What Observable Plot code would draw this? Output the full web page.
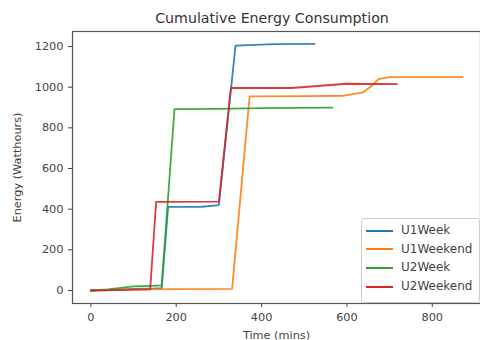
<!DOCTYPE html>
<html><head><meta charset="utf-8">
<script src="https://cdn.jsdelivr.net/npm/d3@7"></script>
<script src="https://cdn.jsdelivr.net/npm/@observablehq/plot@0.6"></script>
<style>
body{margin:0;background:#fff;font-family:"DejaVu Sans",sans-serif;}
#wrap{position:relative;width:480px;height:340px;overflow:hidden;}
#title{position:absolute;left:72px;width:400px;top:10px;text-align:center;font-size:14.2px;color:#333;}
#legend{position:absolute;left:361px;top:218px;width:117px;height:83px;border:1px solid #ccc;border-radius:3px;background:rgba(255,255,255,0.9);font-size:12px;color:#444;}
#legend .row{position:absolute;left:4px;height:18px;line-height:18px;white-space:nowrap;}
#legend .sw{display:inline-block;width:27px;height:2px;vertical-align:middle;margin-right:8px;}
</style></head>
<body><div id="wrap"><div id="title">Cumulative Energy Consumption</div><div id="legend"></div></div>
<script>
const seriesNames = ["U1Week", "U1Weekend", "U2Week", "U2Weekend"];
const seriesColors = ["#1f77b4", "#ff7f0e", "#2ca02c", "#d62728"];
const u1WeekT = [0, 40, 100, 150, 166, 181, 260, 300, 339, 430, 524];
const u1WeekE = [0, 2, 8, 10, 12, 411, 412, 420, 1205, 1212, 1213];
const u1WeekendT = [0, 100, 200, 331, 372, 500, 593, 638, 660, 674, 700, 800, 871];
const u1WeekendE = [2, 5, 7, 8, 955, 956, 958, 975, 1010, 1040, 1050, 1050, 1050];
const u2WeekT = [0, 40, 100, 140, 166, 196, 300, 400, 566];
const u2WeekE = [0, 5, 20, 23, 25, 892, 893, 897, 900];
const u2WeekendT = [0, 60, 139, 153, 300, 328, 470, 600, 717];
const u2WeekendE = [0, 2, 5, 436, 437, 996, 996, 1017, 1015];
const xTicks = [0, 200, 400, 600, 800];
const yTicks = [0, 200, 400, 600, 800, 1000, 1200];

const allT = [u1WeekT, u1WeekendT, u2WeekT, u2WeekendT];
const allE = [u1WeekE, u1WeekendE, u2WeekE, u2WeekendE];
const data = seriesNames.flatMap((s, i) => allT[i].map((t, j) => ({series: s, t, e: allE[i][j]})));

const chart = Plot.plot({
  width: 480, height: 340,
  marginLeft: 72, marginRight: 0, marginTop: 31, marginBottom: 37,
  style: {fontFamily: "DejaVu Sans, sans-serif", fontSize: "11.3px", color: "#444", background: "transparent"},
  x: {domain: [-43, 913], ticks: xTicks, tickFormat: d3.format("d"), tickSize: 4, tickPadding: 5, label: "Time (mins)", labelAnchor: "center", labelArrow: "none", labelOffset: 35},
  y: {domain: [-64, 1274], ticks: yTicks, tickFormat: d3.format("d"), tickSize: 4, tickPadding: 5, label: "Energy (Watthours)", labelAnchor: "center", labelArrow: "none", labelOffset: 60},
  color: {domain: seriesNames, range: seriesColors},
  marks: [
    Plot.frame({stroke: "#555", strokeWidth: 1.2}),
    Plot.line(data, {x: "t", y: "e", z: "series", stroke: "series", strokeWidth: 1.8, strokeOpacity: 0.9, curve: "linear"})
  ]
});
chart.style.position = "absolute"; chart.style.left = "0"; chart.style.top = "0";
const wrap = document.getElementById("wrap");
wrap.insertBefore(chart, wrap.firstChild);
const lg = document.getElementById("legend");
seriesNames.forEach((s, i) => {
  const r = document.createElement("div");
  r.className = "row"; r.style.top = (2 + i * 18.7) + "px";
  r.innerHTML = `<span class="sw" style="background:${seriesColors[i]}"></span>${s}`;
  lg.appendChild(r);
});
</script></body></html>
